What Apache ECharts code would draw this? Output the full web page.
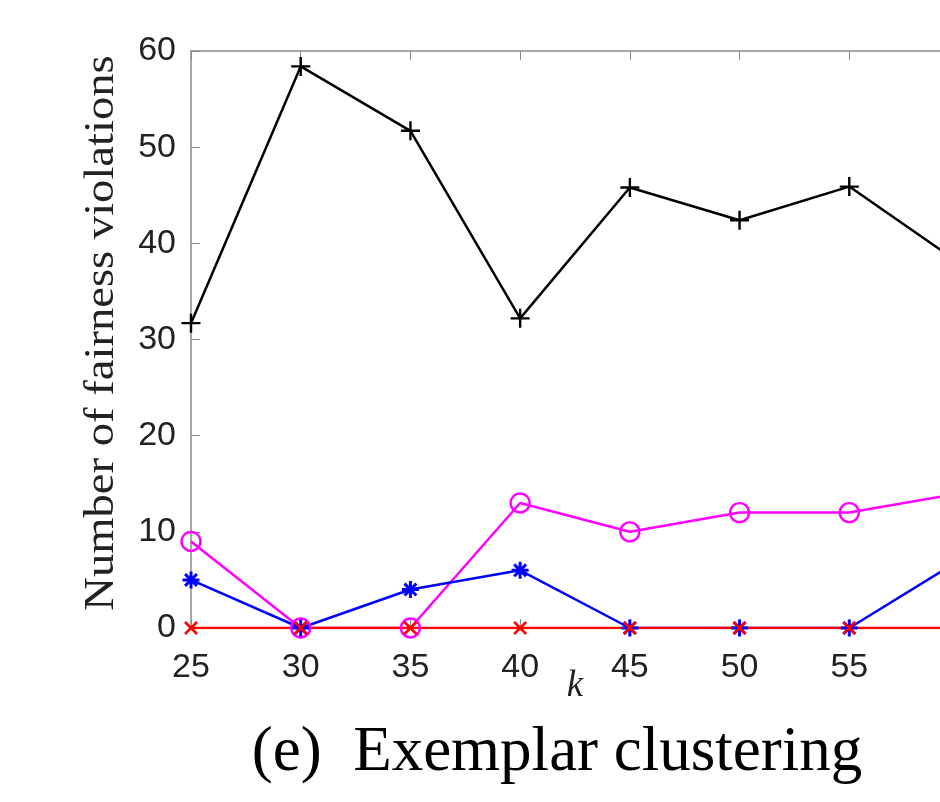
<!DOCTYPE html>
<html>
<head>
<meta charset="utf-8">
<script src="https://cdn.jsdelivr.net/npm/echarts@6/dist/echarts.min.js"></script>
<style>html,body{margin:0;padding:0;background:#fff}#c{width:940px;height:802px}</style>
</head>
<body>
<div id="c"></div>
<script>
var kValues = [25, 30, 35, 40, 45, 50, 55, 60];
var blackPlus = [31.7, 58.4, 51.7, 32.2, 45.8, 42.4, 45.9, 38];
var magentaCircle = [9, 0, 0, 13, 10, 12, 12, 14];
var blueStar = [5, 0, 4, 6, 0, 0, 0, 7];
var redCross = [0, 0, 0, 0, 0, 0, 0, 0];
var yTicks = [0, 10, 20, 30, 40, 50, 60];
var xTicks = [25, 30, 35, 40, 45, 50, 55, 60];
var yLabel = 'Number of fairness violations';
var xLabel = 'k';
var caption = '(e)  Exemplar clustering';

function pairs(ys){ return kValues.map(function(k,i){ return [k, ys[i]]; }); }

var PLUS = 'path://M10,0 L10,20 M0,10 L20,10';
var CROSS = 'path://M0,0 L20,20 M20,0 L0,20';
var STAR = 'path://M10,0 L10,20 M0,10 L20,10 M3,3 L17,17 M17,3 L3,17';

function mk(name, ys, color, symbol, size, bw){
  return {
    name: name, type: 'line', data: pairs(ys), symbol: symbol, symbolSize: size,
    showAllSymbol: true, animation: false,
    lineStyle: {color: color, width: 2.5},
    itemStyle: {color: 'rgba(0,0,0,0)', borderColor: color, borderWidth: bw},
    emphasis: {disabled: true}
  };
}

var chart = echarts.init(document.getElementById('c'), null, {renderer: 'canvas'});
var axisCol = '#8a8a8a';
chart.setOption({
  backgroundColor: '#fff',
  animation: false,
  grid: {left: 191, top: 51, width: 768, height: 577, show: false, containLabel: false, outerBoundsMode: 'none'},
  xAxis: [{
    type: 'value', min: 25, max: 60, interval: 5, position: 'bottom',
    axisLine: {show: true, lineStyle: {color: axisCol, width: 1.5}},
    axisTick: {show: true, inside: true, length: 9, lineStyle: {color: axisCol}},
    axisLabel: {fontFamily: 'Liberation Sans', fontSize: 34, color: '#222', margin: 23, showMaxLabel: true, showMinLabel: true, hideOverlap: false},
    splitLine: {show: false}
  }, {
    type: 'value', min: 25, max: 60, interval: 5, position: 'top',
    axisLine: {show: true, onZero: false, lineStyle: {color: axisCol, width: 1.5}},
    axisTick: {show: true, inside: true, length: 9, lineStyle: {color: axisCol}},
    axisLabel: {show: false}, splitLine: {show: false}
  }],
  yAxis: [{
    type: 'value', min: 0, max: 60, interval: 10,
    axisLine: {show: true, lineStyle: {color: axisCol, width: 1.5}},
    axisTick: {show: true, inside: true, length: 9, lineStyle: {color: axisCol}},
    axisLabel: {fontFamily: 'Liberation Sans', fontSize: 34, color: '#222', margin: 15},
    splitLine: {show: false}
  }],
  series: [
    mk('black', blackPlus, '#000000', PLUS, 19, 2.4),
    mk('magenta', magentaCircle, '#ff00ff', 'circle', 19, 2.4),
    mk('blue', blueStar, '#0000ff', STAR, 17, 3),
    mk('red', redCross, '#ff0000', CROSS, 12, 2.6)
  ],
  graphic: [
    {type: 'text', x: 102, y: 333, rotation: Math.PI/2, scaleX: 1.11,
     style: {text: yLabel, font: '42px "Liberation Serif"', fill: '#222', align: 'center', verticalAlign: 'middle'}},
    {type: 'text', x: 575, y: 686,
     style: {text: xLabel, font: 'italic 37px "Liberation Serif"', fill: '#222', align: 'center', verticalAlign: 'middle'}},
    {type: 'text', x: 557, y: 753,
     style: {text: caption, font: '63px "Liberation Serif"', fill: '#000', align: 'center', verticalAlign: 'middle'}}
  ]
});
</script>
</body>
</html>
